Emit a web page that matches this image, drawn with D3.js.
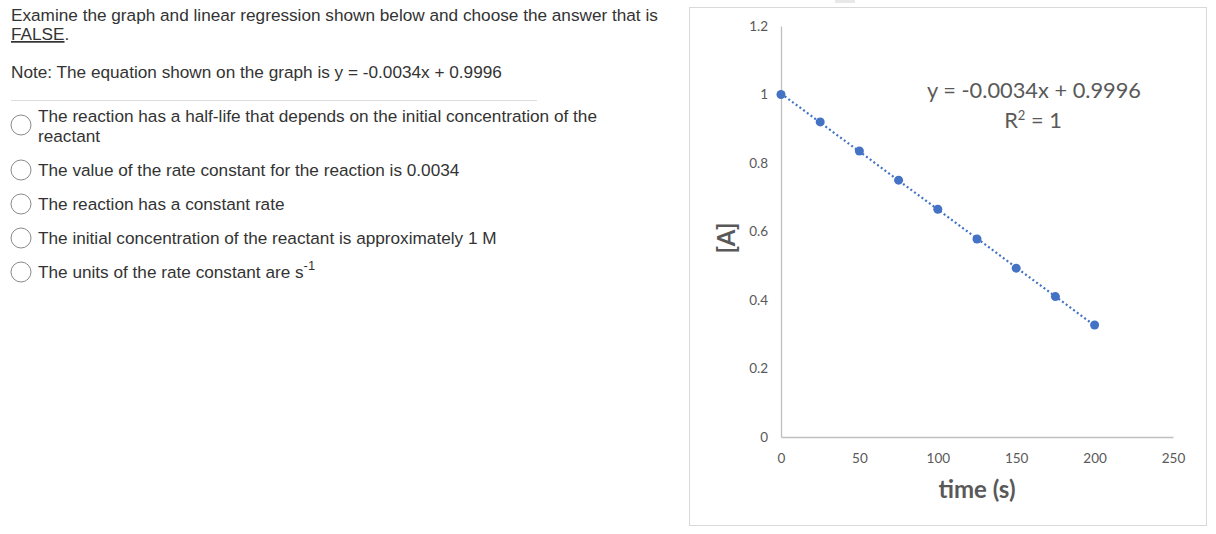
<!DOCTYPE html>
<html>
<head>
<meta charset="utf-8">
<script src="https://cdn.jsdelivr.net/npm/d3@7"></script>
<style>
  body { margin: 0; background: #fff; }
  svg { display: block; }
</style>
</head>
<body>
<div id="chart"></div>
<script>
// data
var timeValues = [0, 25, 50, 75, 100, 125, 150, 175, 200];
var concValues = [1.0, 0.92, 0.835, 0.75, 0.665, 0.578, 0.493, 0.41, 0.327];
var xTicks = [0, 50, 100, 150, 200, 250];
var yTicks = [0, 0.2, 0.4, 0.6, 0.8, 1, 1.2];
var equationText = "y = -0.0034x + 0.9996";
var questionLines = ["Examine the graph and linear regression shown below and choose the answer that is", "FALSE."];
var noteText = "Note: The equation shown on the graph is y = -0.0034x + 0.9996";
var answers = [
  ["The reaction has a half-life that depends on the initial concentration of the", "reactant"],
  ["The value of the rate constant for the reaction is 0.0034"],
  ["The reaction has a constant rate"],
  ["The initial concentration of the reactant is approximately 1 M"],
  ["The units of the rate constant are s"]
];

var W = 1216, H = 534;
var svg = d3.select("#chart").append("svg")
  .attr("width", W)
  .attr("height", H);

svg.append("rect").attr("width", W).attr("height", H).attr("fill", "#fff");

// ---- question text (left side)
var qFont = "'Liberation Sans', Arial, sans-serif";
var qColor = "#333";
var qSize = 17.2;

svg.append("text")
  .attr("x", 11).attr("y", 21)
  .attr("font-family", qFont).attr("font-size", qSize).attr("fill", qColor)
  .text(questionLines[0]);

var falseText = svg.append("text")
  .attr("x", 11).attr("y", 40)
  .attr("font-family", qFont).attr("font-size", qSize).attr("fill", qColor);
falseText.append("tspan").attr("text-decoration", "underline").text("FALSE");
falseText.append("tspan").text(".");

svg.append("text")
  .attr("x", 11).attr("y", 78)
  .attr("font-family", qFont).attr("font-size", qSize).attr("fill", qColor)
  .text(noteText);

svg.append("line")
  .attr("x1", 11).attr("x2", 537)
  .attr("y1", 100.5).attr("y2", 100.5)
  .attr("stroke", "#ddd").attr("stroke-width", 1);

var answerY = [125, 170, 204, 238, 272];
var answerG = svg.selectAll("g.answer")
  .data(answers)
  .enter()
  .append("g")
  .attr("class", "answer")
  .attr("transform", function(d, i) { return "translate(0," + answerY[i] + ")"; });

answerG.append("circle")
  .attr("cx", 21).attr("cy", 0).attr("r", 10)
  .attr("fill", "#fff")
  .attr("stroke", "#8a8a8a").attr("stroke-width", 1);

answerG.each(function(d) {
  var g = d3.select(this);
  var y0 = d.length > 1 ? -3 : 6;
  d.forEach(function(line, j) {
    g.append("text")
      .attr("x", 38).attr("y", y0 + j * 20)
      .attr("font-family", qFont).attr("font-size", qSize).attr("fill", qColor)
      .text(line);
  });
});

// superscript on the last answer
var lastText = answerG.filter(function(d, i) { return i === 4; }).select("text");
lastText.append("tspan")
  .attr("dy", -8).attr("font-size", 13)
  .text("-1");

// ---- chart panel (right side)
svg.append("rect")
  .attr("x", 689.5).attr("y", 7.5)
  .attr("width", 517).attr("height", 518)
  .attr("fill", "#fff")
  .attr("stroke", "#d9d9d9").attr("stroke-width", 1);

svg.append("rect")
  .attr("x", 835).attr("y", 0)
  .attr("width", 20).attr("height", 3)
  .attr("fill", "#e8e8e8");

var x = d3.scaleLinear().domain([0, 250]).range([781, 1173]);
var y = d3.scaleLinear().domain([0, 1.2]).range([437, 26]);

var cFont = "Lato, 'Open Sans', sans-serif";
var tickColor = "#595959";

// axes
var xAxis = svg.append("g")
  .attr("transform", "translate(0," + y(0) + ")")
  .call(d3.axisBottom(x).tickValues(xTicks).tickSize(0).tickPadding(16)
    .tickFormat(d3.format("d")));
xAxis.select(".domain").attr("stroke", "#bfbfbf").attr("stroke-width", 1.3);
xAxis.selectAll("text")
  .attr("font-family", cFont).attr("font-size", 13.5).attr("fill", tickColor);

var yAxis = svg.append("g")
  .attr("transform", "translate(" + x(0) + ",0)")
  .call(d3.axisLeft(y).tickValues(yTicks).tickSize(0).tickPadding(13)
    .tickFormat(function(d) { return d3.format("")(+d.toFixed(1)); }));
yAxis.select(".domain").attr("stroke", "#bfbfbf").attr("stroke-width", 1.3);
yAxis.selectAll("text")
  .attr("font-family", cFont).attr("font-size", 13.5).attr("fill", tickColor);

// linear trendline fitted to the points
var mx = d3.mean(timeValues), my = d3.mean(concValues);
var sxy = d3.sum(timeValues, function(t, i) { return (t - mx) * (concValues[i] - my); });
var sxx = d3.sum(timeValues, function(t) { return (t - mx) * (t - mx); });
var slope = sxy / sxx, intercept = my - slope * mx;
var tMin = d3.min(timeValues), tMax = d3.max(timeValues);

svg.append("line")
  .attr("x1", x(tMin)).attr("y1", y(intercept + slope * tMin))
  .attr("x2", x(tMax)).attr("y2", y(intercept + slope * tMax))
  .attr("stroke", "#4472c4")
  .attr("stroke-width", 2.2)
  .attr("stroke-dasharray", "2,2.6");

// points
svg.selectAll("circle.pt")
  .data(timeValues)
  .enter()
  .append("circle")
  .attr("class", "pt")
  .attr("cx", function(d) { return x(d); })
  .attr("cy", function(d, i) { return y(concValues[i]); })
  .attr("r", 4.5)
  .attr("fill", "#4472c4");

// equation label
svg.append("text")
  .attr("x", 1034).attr("y", 98)
  .attr("text-anchor", "middle")
  .attr("font-family", cFont).attr("font-size", 21.8).attr("fill", tickColor)
  .text(equationText);

var r2 = svg.append("text")
  .attr("x", 1033).attr("y", 128)
  .attr("text-anchor", "middle")
  .attr("font-family", cFont).attr("font-size", 21.8).attr("fill", tickColor);
r2.append("tspan").text("R");
r2.append("tspan").attr("dy", -8).attr("font-size", 13).text("2");
r2.append("tspan").attr("dy", 8).text(" = 1");

// axis titles
svg.append("text")
  .attr("x", 977).attr("y", 498)
  .attr("text-anchor", "middle")
  .attr("font-family", cFont).attr("font-size", 24).attr("font-weight", "bold")
  .attr("fill", tickColor)
  .text("time (s)");

svg.append("text")
  .attr("transform", "translate(735,238) rotate(-90)")
  .attr("text-anchor", "middle")
  .attr("font-family", cFont).attr("font-size", 24).attr("font-weight", "bold")
  .attr("fill", tickColor)
  .text("[A]");
</script>
</body>
</html>
